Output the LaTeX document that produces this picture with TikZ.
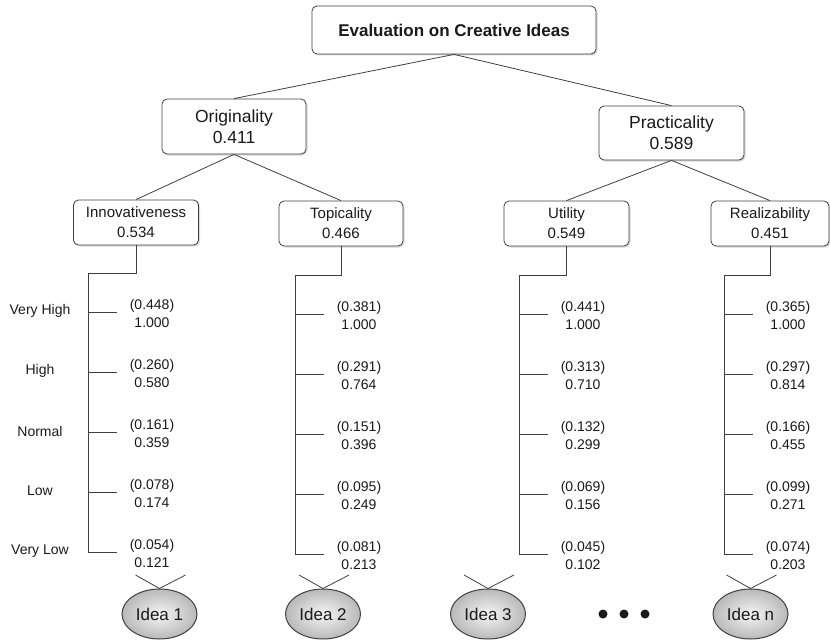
\documentclass[tikz,border=0pt]{standalone}
\usepackage{fontspec}
\setmainfont{Liberation Sans}
\usetikzlibrary{shapes.geometric,shadows}
\definecolor{edge}{HTML}{404040}
\definecolor{ink}{HTML}{1A1A1A}
\tikzset{ahp/.style={x=1pt,y=-1pt,line width=.8pt,edge},
  crit/.style={draw=edge,text=ink,fill=white,rounded corners=5pt,align=center,inner sep=2pt,
    drop shadow={opacity=.3,shadow xshift=1.5pt,shadow yshift=-1.5pt}},
  sub/.style={crit,minimum height=45pt,font=\fontsize{15}{20}\selectfont},
  val/.style={text=ink,align=center,inner sep=0pt,font=\fontsize{14}{18}\selectfont},
  idea/.style={ellipse,draw=edge,line width=1pt,inner color=gray!8,outer color=gray!55,text=ink,
    minimum width=75pt,minimum height=50pt,inner sep=0pt,font=\fontsize{17}{20}\selectfont}}

\begin{document}
\begin{tikzpicture}[ahp]
  \useasboundingbox (0,0) rectangle (830,642);
  \node[crit,minimum width=284pt,minimum height=48pt,font=\bfseries\fontsize{17}{20}\selectfont] (title) at (454,30) {Evaluation on Creative Ideas};
  \node[crit,minimum width=144pt,minimum height=55pt,font=\fontsize{17.5}{21}\selectfont] (orig) at (234,126.5) {Originality\\0.411};
  \node[crit,minimum width=145pt,minimum height=54pt,font=\fontsize{17.5}{21}\selectfont] (prac) at (671.5,133) {Practicality\\0.589};
  \node[sub,minimum width=125pt] (innov) at (136,222.5) {Innovativeness\\0.534};
  \node[sub,minimum width=124pt] (topic) at (341,223.5) {Topicality\\0.466};
  \node[sub,minimum width=125pt] (util) at (566.5,223.5) {Utility\\0.549};
  \node[sub,minimum width=118pt] (real) at (770,223.5) {Realizability\\0.451};
  \draw (title.south)--(orig.north);\draw (title.south)--(prac.north);
  \draw (orig.south)--(innov.north);\draw (orig.south)--(topic.north);
  \draw (prac.south)--(util.north);\draw (prac.south)--(real.north);
  \foreach \t [count=\k from 0] in {Very High,High,Normal,Low,Very Low}
    \node[val] (lvl\k) at (40,311+60*\k) {\t};
  \foreach \c/\bx/\ty/\fy/\vals in {
      innov/88/273/312/{0.448/1.000,0.260/0.580,0.161/0.359,0.078/0.174,0.054/0.121},
      topic/295/275/314/{0.381/1.000,0.291/0.764,0.151/0.396,0.095/0.249,0.081/0.213},
      util/519/275/314/{0.441/1.000,0.313/0.710,0.132/0.299,0.069/0.156,0.045/0.102},
      real/724/275/314/{0.365/1.000,0.297/0.814,0.166/0.455,0.099/0.271,0.074/0.203}}{
    \coordinate (\c top) at (\bx,\ty);\coordinate (\c bot) at (\bx,\fy+240);
    \draw (\c.south) |- (\c top) -- (\c bot);
    \foreach \w/\s [count=\k from 0] in \vals {
      \coordinate (\c t\k) at (\bx,\fy+60*\k);\coordinate (\c e\k) at (\bx+29,\fy+60*\k);
      \draw (\c t\k)--(\c e\k);
      \node[val] (\c v\k) at (\bx+64,\fy+60*\k+1) {(\w)\\\s};
    }
  }
  \foreach \i/\cx in {1/159.5,2/323,3/488,n/750.5}{
    \node[idea] (idea\i) at (\cx,614) {Idea \i};
    \coordinate (idea\i l) at (\cx-24,575);\coordinate (idea\i r) at (\cx+26,575);
    \draw (idea\i l)--(idea\i.north)--(idea\i r);
  }
  \foreach \x in {603,624,645} \fill[ink] (\x,614) circle (4.5);
\end{tikzpicture}
\end{document}
